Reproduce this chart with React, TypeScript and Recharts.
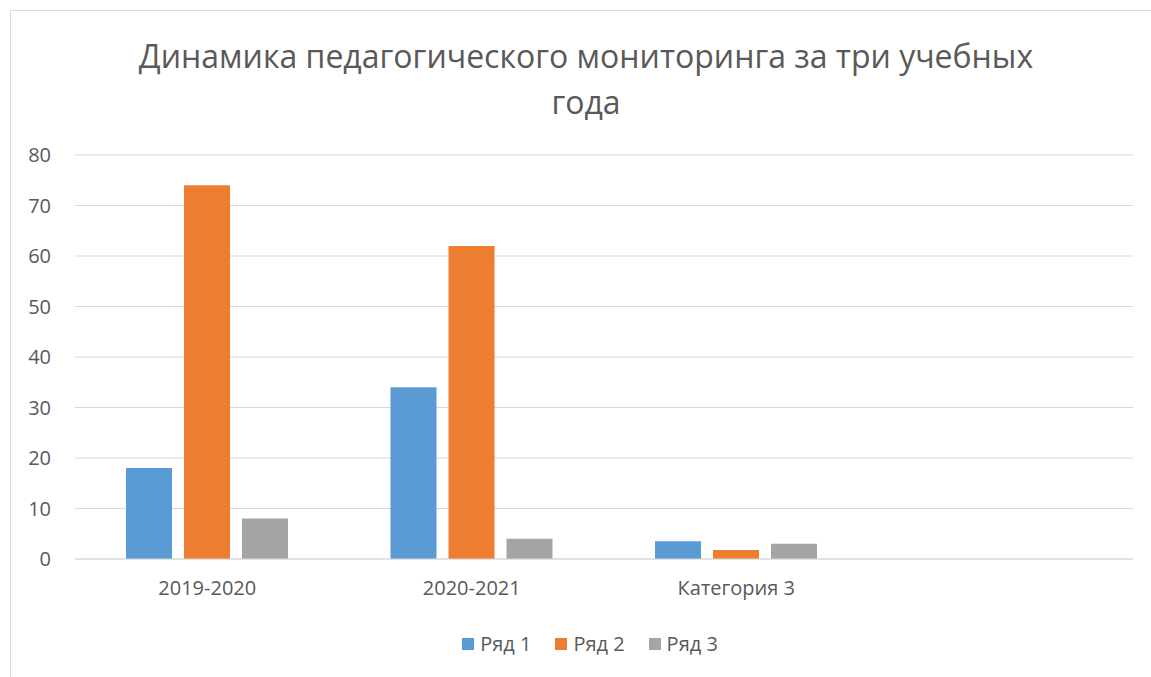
import { BarChart, Bar, XAxis, YAxis, CartesianGrid, Legend } from "recharts";

const categories = ["2019-2020", "2020-2021", "Категория 3", ""];
const series1 = [18, 34, 3.5, null];
const series2 = [74, 62, 1.8, null];
const series3 = [8, 4, 3, null];
const yTicks = [0, 10, 20, 30, 40, 50, 60, 70, 80];

const data = categories.map((name, i) => ({
  name,
  r1: series1[i],
  r2: series2[i],
  r3: series3[i],
}));

const font = "'Open Sans', 'Noto Sans', sans-serif";
const textColor = "#595959";
const gridStroke = "#d9d9d9";

const legendItems = [
  { label: "Ряд 1", color: "#5b9bd5" },
  { label: "Ряд 2", color: "#ed7d31" },
  { label: "Ряд 3", color: "#a5a5a5" },
];

function LegendContent() {
  return (
    <div style={{ display: "flex", justifyContent: "center", gap: 24, fontFamily: font, fontSize: 20, color: textColor }}>
      {legendItems.map((it) => (
        <div key={it.label} style={{ display: "flex", alignItems: "center", gap: 6 }}>
          <span style={{ width: 12, height: 12, background: it.color, display: "inline-block" }} />
          <span>{it.label}</span>
        </div>
      ))}
    </div>
  );
}

export default function App() {
  return (
    <div style={{ position: "absolute", left: 0, top: 0, width: 1151, height: 677, overflow: "hidden", background: "#fff" }}>
      <div style={{ position: "absolute", left: 10, top: 10, width: 1200, height: 700, border: "1px solid #d9d9d9" }} />
      <div
        style={{
          position: "absolute",
          left: 0,
          top: 33,
          width: 1172,
          textAlign: "center",
          fontFamily: font,
          fontSize: 32,
          lineHeight: "46px",
          color: textColor,
        }}
      >
        Динамика педагогического мониторинга за три учебных
        <br />
        года
      </div>
      <div style={{ position: "absolute", left: 0, top: 0 }}>
        <BarChart
          width={1151}
          height={677}
          data={data}
          margin={{ top: 155, right: 18, bottom: 52, left: 10 }}
          barSize={46}
          barGap={12}
        >
          <CartesianGrid vertical={false} stroke={gridStroke} />
          <XAxis
            dataKey="name"
            axisLine={{ stroke: gridStroke }}
            tickLine={false}
            height={40}
            tickMargin={16}
            tick={{ fontSize: 20, fill: textColor, fontFamily: font }}
          />
          <YAxis
            domain={[0, 80]}
            ticks={yTicks}
            axisLine={false}
            tickLine={false}
            width={65}
            tickMargin={18}
            tick={{ fontSize: 20, fill: textColor, fontFamily: font }}
          />
          <Legend
            content={<LegendContent />}
            wrapperStyle={{ position: "absolute", top: 630, left: 0, width: 1180, height: 26 }}
          />
          <Bar dataKey="r1" name="Ряд 1" fill="#5b9bd5" isAnimationActive={false} />
          <Bar dataKey="r2" name="Ряд 2" fill="#ed7d31" isAnimationActive={false} />
          <Bar dataKey="r3" name="Ряд 3" fill="#a5a5a5" isAnimationActive={false} />
        </BarChart>
      </div>
    </div>
  );
}
